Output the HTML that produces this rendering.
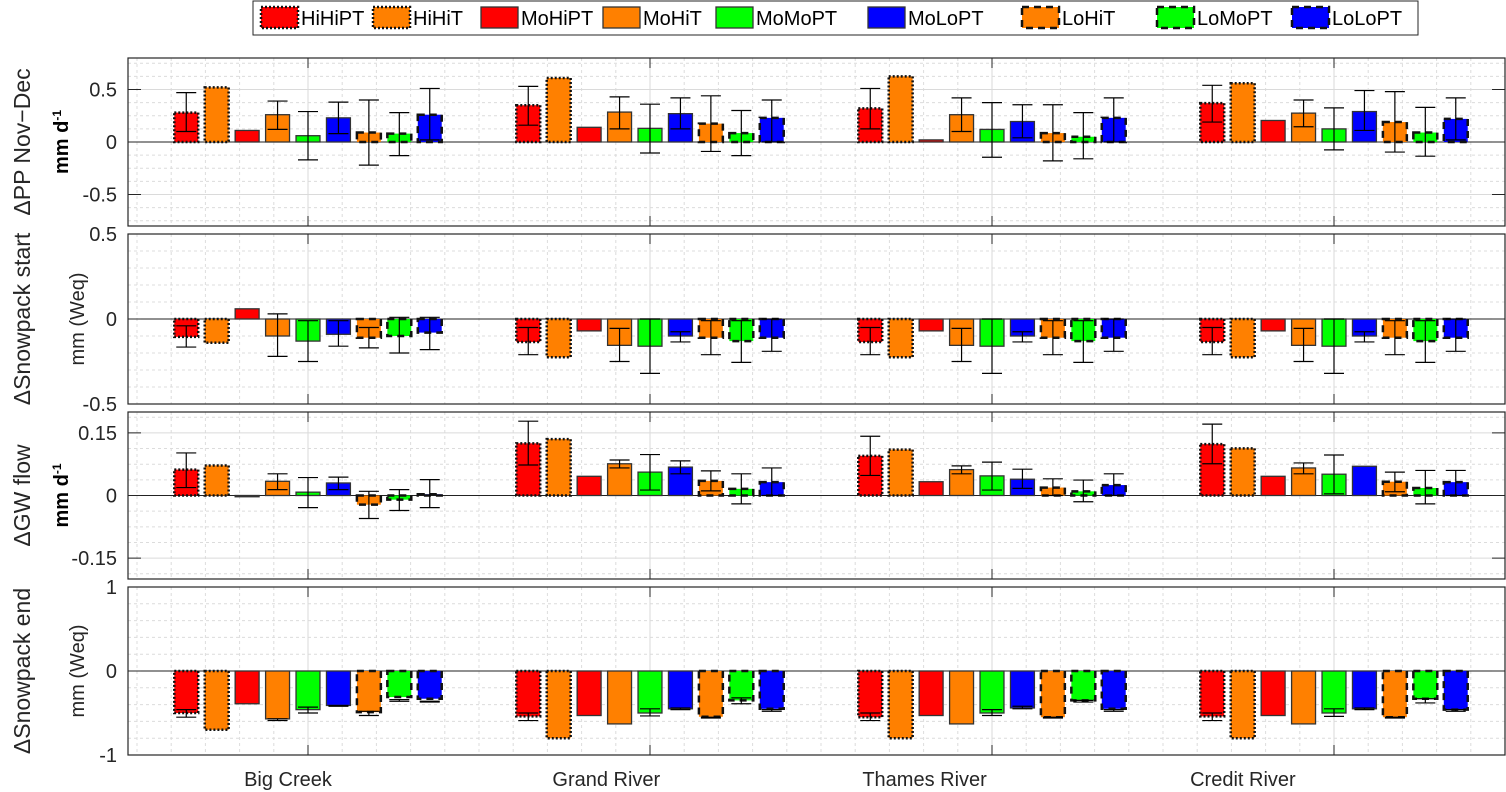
<!DOCTYPE html>
<html><head><meta charset="utf-8">
<style>
body{margin:0;background:#fff;width:1506px;height:792px;overflow:hidden;font-family:"Liberation Sans",sans-serif;}
svg{display:block}
</style></head>
<body>
<svg id="chart" width="1506" height="792" xmlns="http://www.w3.org/2000/svg" font-family="Liberation Sans, sans-serif"></svg>
<script>
const categories = ["Big Creek","Grand River","Thames River","Credit River"];
const seriesNames = ["HiHiPT","HiHiT","MoHiPT","MoHiT","MoMoPT","MoLoPT","LoHiT","LoMoPT","LoLoPT"];
const seriesColors = ["#ff0000","#ff8000","#ff0000","#ff8000","#00ff00","#0000ff","#ff8000","#00ff00","#0000ff"];
const seriesStyles = ["dot","dot","solid","solid","solid","solid","dash","dash","dash"];

// Panel 1: ΔPP Nov-Dec
const ppVals = [[0.28,0.52,0.11,0.26,0.06,0.23,0.09,0.08,0.26],[0.35,0.61,0.14,0.285,0.13,0.27,0.175,0.085,0.23],[0.32,0.625,0.02,0.26,0.12,0.195,0.085,0.05,0.23],[0.37,0.56,0.205,0.275,0.125,0.29,0.19,0.09,0.22]];
const ppLo = [[0.10,0.52,0.11,0.12,-0.17,0.08,-0.22,-0.13,0.02],[0.16,0.61,0.14,0.125,-0.105,0.125,-0.09,-0.13,0.0],[0.125,0.625,0.02,0.10,-0.145,0.04,-0.18,-0.16,0.0],[0.19,0.56,0.205,0.145,-0.075,0.11,-0.096,-0.135,0.02]];
const ppHi = [[0.47,0.52,0.11,0.39,0.29,0.38,0.40,0.28,0.51],[0.53,0.61,0.14,0.43,0.36,0.42,0.44,0.30,0.40],[0.51,0.625,0.02,0.42,0.375,0.355,0.355,0.28,0.42],[0.54,0.56,0.205,0.40,0.325,0.49,0.48,0.33,0.42]];
// Panel 2: ΔSnowpack start
const ssVals = [[-0.105,-0.14,0.06,-0.10,-0.13,-0.09,-0.11,-0.10,-0.08],[-0.135,-0.225,-0.07,-0.155,-0.16,-0.10,-0.11,-0.13,-0.11],[-0.135,-0.225,-0.07,-0.155,-0.16,-0.10,-0.11,-0.13,-0.11],[-0.135,-0.225,-0.07,-0.155,-0.16,-0.10,-0.11,-0.13,-0.11]];
const ssLo = [[-0.165,-0.14,0.06,-0.22,-0.25,-0.16,-0.17,-0.20,-0.18],[-0.21,-0.225,-0.07,-0.25,-0.32,-0.135,-0.21,-0.255,-0.19],[-0.21,-0.225,-0.07,-0.25,-0.32,-0.135,-0.21,-0.255,-0.19],[-0.21,-0.225,-0.07,-0.25,-0.32,-0.135,-0.21,-0.255,-0.19]];
const ssHi = [[-0.04,-0.14,0.06,0.03,-0.01,-0.01,-0.05,0.01,0.01],[-0.05,-0.225,-0.07,-0.055,0,-0.075,-0.01,-0.01,0],[-0.05,-0.225,-0.07,-0.055,0,-0.075,-0.01,-0.01,0],[-0.05,-0.225,-0.07,-0.055,0,-0.075,-0.01,-0.01,0]];
// Panel 3: ΔGW flow
const gwVals = [[0.062,0.072,-0.003,0.034,0.008,0.03,-0.022,-0.01,0.003],[0.125,0.135,0.046,0.076,0.056,0.068,0.035,0.016,0.032],[0.095,0.11,0.033,0.062,0.047,0.039,0.019,0.01,0.025],[0.123,0.113,0.046,0.066,0.051,0.07,0.033,0.018,0.032]];
const gwLo = [[0.019,0.072,-0.003,0.014,-0.029,0.014,-0.055,-0.036,-0.029],[0.073,0.135,0.046,0.066,0.013,0.052,0.011,-0.02,0.0],[0.048,0.11,0.033,0.052,0.013,0.017,0.0,-0.015,0.0],[0.076,0.113,0.046,0.052,0.004,0.07,0.009,-0.02,0.0]];
const gwHi = [[0.102,0.072,-0.003,0.052,0.043,0.044,0.01,0.014,0.038],[0.178,0.135,0.046,0.085,0.098,0.083,0.059,0.052,0.066],[0.142,0.11,0.033,0.071,0.08,0.063,0.04,0.037,0.052],[0.171,0.113,0.046,0.078,0.097,0.07,0.056,0.06,0.06]];
// Panel 4: ΔSnowpack end
const seVals = [[-0.5,-0.7,-0.39,-0.57,-0.46,-0.41,-0.49,-0.31,-0.33],[-0.54,-0.8,-0.53,-0.63,-0.5,-0.45,-0.545,-0.35,-0.45],[-0.55,-0.8,-0.53,-0.63,-0.5,-0.44,-0.55,-0.35,-0.45],[-0.54,-0.8,-0.53,-0.63,-0.5,-0.45,-0.55,-0.33,-0.46]];
const seLo = [[-0.55,-0.7,-0.39,-0.59,-0.5,-0.42,-0.53,-0.36,-0.37],[-0.59,-0.8,-0.53,-0.63,-0.535,-0.46,-0.56,-0.39,-0.48],[-0.59,-0.8,-0.53,-0.63,-0.53,-0.45,-0.56,-0.37,-0.48],[-0.59,-0.8,-0.53,-0.63,-0.54,-0.46,-0.56,-0.38,-0.48]];
const seHi = [[-0.46,-0.7,-0.39,-0.57,-0.43,-0.41,-0.48,-0.34,-0.36],[-0.5,-0.8,-0.53,-0.63,-0.45,-0.44,-0.55,-0.32,-0.46],[-0.5,-0.8,-0.53,-0.63,-0.46,-0.42,-0.55,-0.35,-0.46],[-0.5,-0.8,-0.53,-0.63,-0.45,-0.44,-0.55,-0.33,-0.46]];

const ppTicks = [-0.5,0,0.5], ppTickLabels = ["-0.5","0","0.5"];
const ssTicks = [-0.5,0,0.5], ssTickLabels = ["-0.5","0","0.5"];
const gwTicks = [-0.15,0,0.15], gwTickLabels = ["-0.15","0","0.15"];
const seTicks = [-1,0,1], seTickLabels = ["-1","0","1"];

const NS="http://www.w3.org/2000/svg";
const svg=document.getElementById('chart');
function mk(tag,attrs,parent){const e=document.createElementNS(NS,tag);for(const k in attrs)e.setAttribute(k,attrs[k]);(parent||svg).appendChild(e);return e;}

const AX_L=128, AX_R=1505;
function xScale(u){return 308+(u-1)*342;}
function labelX(i){return 288+i*318.3;}
const uL=(AX_L-308)/342+1, uR=(AX_R-308)/342+1;

const panels=[
 {name:"pp",top:58,bot:226,min:-0.8,max:0.8,minor:0.125,ticks:ppTicks,labels:ppTickLabels,vals:ppVals,lo:ppLo,hi:ppHi,title:"\u0394PP Nov\u2212Dec",unit:"mm d",sup:true,bold:true},
 {name:"snow-start",top:234,bot:404,min:-0.5,max:0.5,minor:0.1,ticks:ssTicks,labels:ssTickLabels,vals:ssVals,lo:ssLo,hi:ssHi,title:"\u0394Snowpack start",unit:"mm (Weq)",sup:false,bold:false},
 {name:"gw-flow",top:412,bot:579,min:-0.2,max:0.2,minor:0.0375,ticks:gwTicks,labels:gwTickLabels,vals:gwVals,lo:gwLo,hi:gwHi,title:"\u0394GW flow",unit:"mm d",sup:true,bold:true},
 {name:"snow-end",top:587,bot:755,min:-1,max:1,minor:0.2,ticks:seTicks,labels:seTickLabels,vals:seVals,lo:seLo,hi:seHi,title:"\u0394Snowpack end",unit:"mm (Weq)",sup:false,bold:false}
];

panels.forEach(p=>{
  const y=v=>p.bot-(v-p.min)/(p.max-p.min)*(p.bot-p.top);
  const g=mk('g',{});
  
  
  for(let v=Math.ceil(p.min/p.minor)*p.minor; v<=p.max+1e-9; v+=p.minor){
    if(p.ticks.some(t=>Math.abs(t-v)<1e-6))continue;
    mk('line',{x1:AX_L,x2:AX_R,y1:y(v),y2:y(v),stroke:'#dcdcdc','stroke-width':1,'stroke-dasharray':'3,3'},g);
  }
  for(let k=Math.ceil(uL*10); k<=Math.floor(uR*10); k++){
    if(k%10===0)continue;
    const r=k/10;
    mk('line',{x1:xScale(r),x2:xScale(r),y1:p.top,y2:p.bot,stroke:'#dcdcdc','stroke-width':1,'stroke-dasharray':'3,3'},g);
  }
  p.ticks.forEach(t=>mk('line',{x1:AX_L,x2:AX_R,y1:y(t),y2:y(t),stroke:'#dadada','stroke-width':1},g));
  categories.forEach((c,i)=>mk('line',{x1:xScale(i+1),x2:xScale(i+1),y1:p.top,y2:p.bot,stroke:'#dadada','stroke-width':1},g));
  mk('line',{x1:AX_L,x2:AX_R,y1:y(0),y2:y(0),stroke:'#222','stroke-width':1},g);
  categories.forEach((c,gi)=>{
    seriesNames.forEach((s,si)=>{
      const v=p.vals[gi][si];
      const cx=xScale(gi+1+(si-4)*0.089);
      const w=0.07*342;
      const y0=y(0), y1=y(v);
      const st=seriesStyles[si];
      const attrs={x:cx-w/2,y:Math.min(y0,y1),width:w,height:Math.max(Math.abs(y1-y0),1),fill:seriesColors[si]};
      if(st==='solid'){attrs.stroke='#333';attrs['stroke-width']=1.3;}
      else if(st==='dot'){attrs.stroke='#111';attrs['stroke-width']=2.5;attrs['stroke-dasharray']='2,2';}
      else {attrs.stroke='#111';attrs['stroke-width']=2.5;attrs['stroke-dasharray']='7,5';}
      const r=mk('rect',attrs,g);
      
      
      const lo=p.lo[gi][si], hi=p.hi[gi][si];
      if(Math.abs(hi-lo)>1e-6){
        const eb=mk('g',{stroke:'#000','stroke-width':1.2},g);
        
        
        mk('line',{x1:cx,x2:cx,y1:y(lo),y2:y(hi)},eb);
        mk('line',{x1:cx-10,x2:cx+10,y1:y(lo),y2:y(lo)},eb);
        mk('line',{x1:cx-10,x2:cx+10,y1:y(hi),y2:y(hi)},eb);
      }
    });
  });
  mk('rect',{x:AX_L,y:p.top,width:AX_R-AX_L,height:p.bot-p.top,fill:'none',stroke:'#262626','stroke-width':1.2},g);
  p.ticks.forEach((t,i)=>{
    mk('line',{x1:AX_L,x2:AX_L+13,y1:y(t),y2:y(t),stroke:'#262626'},g);
    mk('line',{x1:AX_R-13,x2:AX_R,y1:y(t),y2:y(t),stroke:'#262626'},g);
    const tl=mk('text',{x:117,y:y(t)+7,'text-anchor':'end','font-size':20,fill:'#262626'},g);
    tl.textContent=p.labels[i];
    
    
  });
  categories.forEach((c,i)=>{
    mk('line',{x1:xScale(i+1),x2:xScale(i+1),y1:p.top,y2:p.top+10,stroke:'#262626'},g);
    mk('line',{x1:xScale(i+1),x2:xScale(i+1),y1:p.bot-10,y2:p.bot,stroke:'#262626'},g);
  });
  const cy=(p.top+p.bot)/2;
  const t1=mk('text',{x:0,y:0,transform:`translate(30,${cy}) rotate(-90)`,'text-anchor':'middle','font-size':23,fill:'#262626'},g);
  t1.textContent=p.title;
  
  
  const t2=mk('text',{x:0,y:0,transform:`translate(${p.sup?68:84},${cy}) rotate(-90)`,'text-anchor':'middle','font-size':20,'font-weight':p.bold?'bold':'normal',fill:p.bold?'#000':'#262626'},g);
  t2.textContent=p.unit;
  if(p.sup){const ts=mk('tspan',{dy:-7,'font-size':12},t2);ts.textContent='-1';}
  
  
});

categories.forEach((c,i)=>{
  const t=mk('text',{x:labelX(i),y:786,'text-anchor':'middle','font-size':20,fill:'#262626'});
  t.textContent=c;
  
  
});

const lg=mk('g',{});


mk('rect',{x:253,y:1,width:1165,height:34,fill:'#fff',stroke:'#262626','stroke-width':1},lg);
const legX=[261,373,481,603,716,868,1022,1157,1292];
seriesNames.forEach((s,si)=>{
  const st=seriesStyles[si];
  const a={x:legX[si],y:7,width:37,height:21,fill:seriesColors[si]};
  if(st==='solid'){a.stroke='#333';a['stroke-width']=1.3;}
  else if(st==='dot'){a.stroke='#111';a['stroke-width']=2.5;a['stroke-dasharray']='2,2';}
  else {a.stroke='#111';a['stroke-width']=2.5;a['stroke-dasharray']='7,5';}
  const sw=mk('rect',a,lg);
  
  
  const t=mk('text',{x:legX[si]+40,y:25,'font-size':20,fill:'#000'},lg);
  t.textContent=s;
  
  
});
</script>
</body></html>
